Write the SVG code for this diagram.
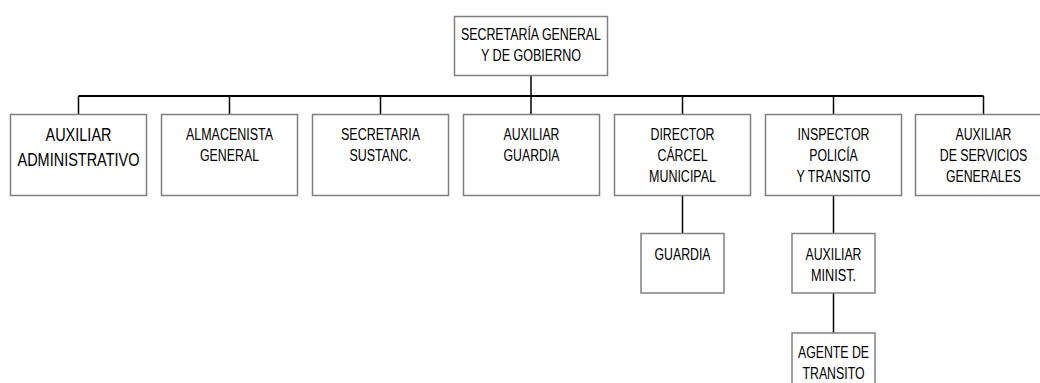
<svg xmlns="http://www.w3.org/2000/svg" width="1040" height="383" viewBox="0 0 1040 383">
<style>
.box{fill:#fff;stroke:#808080;stroke-width:1.5}
.t{font-family:"Liberation Sans",Arial,sans-serif;font-size:16px;fill:#000;text-anchor:middle}
.big{font-size:18px}
.ln{stroke:#000;stroke-width:1.5;fill:none}
.hl{stroke:#000;stroke-width:2;fill:none}
</style>
<rect width="1040" height="383" fill="#fff"/>
<g id="connectors">
<line class="ln" x1="531" y1="75.5" x2="531" y2="96"/>
<line class="hl" x1="78.5" y1="96" x2="983.5" y2="96"/>
<line class="ln" x1="78.5" y1="96" x2="78.5" y2="114.5"/>
<line class="ln" x1="229.5" y1="96" x2="229.5" y2="114.5"/>
<line class="ln" x1="380.5" y1="96" x2="380.5" y2="114.5"/>
<line class="ln" x1="531" y1="96" x2="531" y2="114.5"/>
<line class="ln" x1="682.5" y1="96" x2="682.5" y2="114.5"/>
<line class="ln" x1="833.5" y1="96" x2="833.5" y2="114.5"/>
<line class="ln" x1="983.5" y1="96" x2="983.5" y2="114.5"/>
<line class="ln" x1="682.5" y1="195.5" x2="682.5" y2="233.5"/>
<line class="ln" x1="833.5" y1="195.5" x2="833.5" y2="233.5"/>
<line class="ln" x1="833.5" y1="293" x2="833.5" y2="333"/>
</g>
<g id="secretaria-general">
<rect class="box" x="454.5" y="16.5" width="153" height="59"/>
<text class="t" x="531" y="40" textLength="140" lengthAdjust="spacingAndGlyphs">SECRETARÍA GENERAL</text>
<text class="t" x="531" y="61" textLength="100" lengthAdjust="spacingAndGlyphs">Y DE GOBIERNO</text>
</g>
<g id="auxiliar-administrativo">
<rect class="box" x="10.5" y="114.5" width="136" height="81"/>
<text class="t big" x="78.5" y="140.5" textLength="66" lengthAdjust="spacingAndGlyphs">AUXILIAR</text>
<text class="t big" x="78.5" y="165.5" textLength="122" lengthAdjust="spacingAndGlyphs">ADMINISTRATIVO</text>
</g>
<g id="almacenista-general">
<rect class="box" x="161.5" y="114.5" width="136" height="81"/>
<text class="t" x="229.5" y="140" textLength="87" lengthAdjust="spacingAndGlyphs">ALMACENISTA</text>
<text class="t" x="229.5" y="161" textLength="59" lengthAdjust="spacingAndGlyphs">GENERAL</text>
</g>
<g id="secretaria-sustanc">
<rect class="box" x="312.5" y="114.5" width="136" height="81"/>
<text class="t" x="380.5" y="140" textLength="79" lengthAdjust="spacingAndGlyphs">SECRETARIA</text>
<text class="t" x="380.5" y="161" textLength="62" lengthAdjust="spacingAndGlyphs">SUSTANC.</text>
</g>
<g id="auxiliar-guardia">
<rect class="box" x="463.5" y="114.5" width="136" height="81"/>
<text class="t" x="531.5" y="140" textLength="56" lengthAdjust="spacingAndGlyphs">AUXILIAR</text>
<text class="t" x="531.5" y="161" textLength="56" lengthAdjust="spacingAndGlyphs">GUARDIA</text>
</g>
<g id="director-carcel">
<rect class="box" x="614.5" y="114.5" width="136" height="81"/>
<text class="t" x="682.5" y="140" textLength="64" lengthAdjust="spacingAndGlyphs">DIRECTOR</text>
<text class="t" x="682.5" y="161" textLength="50" lengthAdjust="spacingAndGlyphs">CÁRCEL</text>
<text class="t" x="682.5" y="182" textLength="67" lengthAdjust="spacingAndGlyphs">MUNICIPAL</text>
</g>
<g id="inspector-policia">
<rect class="box" x="765.5" y="114.5" width="136" height="81"/>
<text class="t" x="833.5" y="140" textLength="72" lengthAdjust="spacingAndGlyphs">INSPECTOR</text>
<text class="t" x="833.5" y="161" textLength="48.5" lengthAdjust="spacingAndGlyphs">POLICÍA</text>
<text class="t" x="833.5" y="182" textLength="74" lengthAdjust="spacingAndGlyphs">Y TRANSITO</text>
</g>
<g id="auxiliar-servicios">
<rect class="box" x="915.5" y="114.5" width="136" height="81"/>
<text class="t" x="983.5" y="140" textLength="56" lengthAdjust="spacingAndGlyphs">AUXILIAR</text>
<text class="t" x="983.5" y="161" textLength="87.5" lengthAdjust="spacingAndGlyphs">DE SERVICIOS</text>
<text class="t" x="983.5" y="182" textLength="75" lengthAdjust="spacingAndGlyphs">GENERALES</text>
</g>
<g id="guardia">
<rect class="box" x="641" y="233.5" width="83" height="59.5"/>
<text class="t" x="682.5" y="259.5" textLength="56" lengthAdjust="spacingAndGlyphs">GUARDIA</text>
</g>
<g id="auxiliar-minist">
<rect class="box" x="792" y="233.5" width="83" height="59.5"/>
<text class="t" x="833.5" y="259.5" textLength="56" lengthAdjust="spacingAndGlyphs">AUXILIAR</text>
<text class="t" x="833.5" y="281" textLength="45" lengthAdjust="spacingAndGlyphs">MINIST.</text>
</g>
<g id="agente-transito">
<rect class="box" x="792" y="333" width="83" height="60"/>
<text class="t" x="833.5" y="357.5" textLength="71" lengthAdjust="spacingAndGlyphs">AGENTE DE</text>
<text class="t" x="833.5" y="378.5" textLength="62" lengthAdjust="spacingAndGlyphs">TRANSITO</text>
</g>
</svg>
